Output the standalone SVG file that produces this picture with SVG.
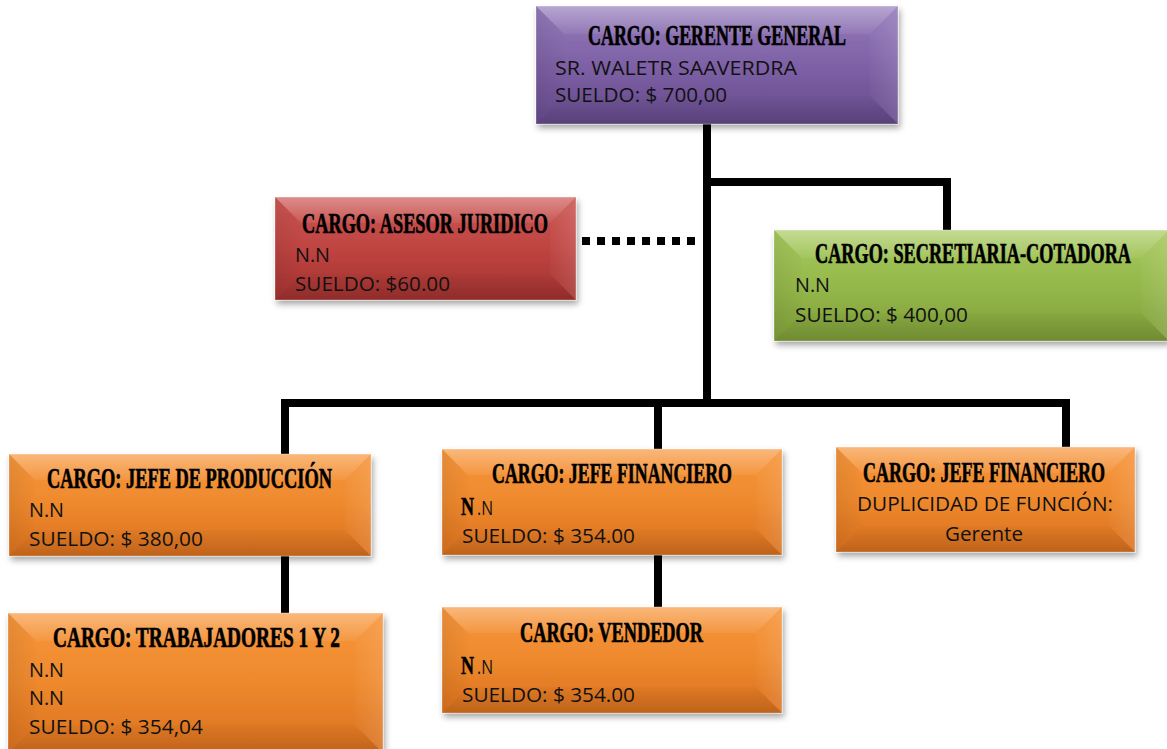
<svg xmlns="http://www.w3.org/2000/svg" width="1167" height="749" viewBox="0 0 1167 749">
  <defs>
    <linearGradient id="gPurple" x1="0" y1="0" x2="0" y2="1">
      <stop offset="0" stop-color="#957cbb"/>
      <stop offset="0.5" stop-color="#7e61a6"/>
      <stop offset="1" stop-color="#654a8b"/>
    </linearGradient>
    <linearGradient id="gRed" x1="0" y1="0" x2="0" y2="1">
      <stop offset="0" stop-color="#cc5754"/>
      <stop offset="0.5" stop-color="#bf4441"/>
      <stop offset="1" stop-color="#a3322f"/>
    </linearGradient>
    <linearGradient id="gGreen" x1="0" y1="0" x2="0" y2="1">
      <stop offset="0" stop-color="#a8ca5f"/>
      <stop offset="0.5" stop-color="#95b84b"/>
      <stop offset="1" stop-color="#7e9e38"/>
    </linearGradient>
    <linearGradient id="gOrange" x1="0" y1="0" x2="0" y2="1">
      <stop offset="0" stop-color="#f7963c"/>
      <stop offset="0.5" stop-color="#ee892d"/>
      <stop offset="1" stop-color="#d9701e"/>
    </linearGradient>
    <!-- soft bevel shading -->
    <linearGradient id="bevTop" x1="0" y1="0" x2="0" y2="1">
      <stop offset="0" stop-color="#fff" stop-opacity="0.32"/>
      <stop offset="1" stop-color="#fff" stop-opacity="0.06"/>
    </linearGradient>
    <linearGradient id="bevBottom" x1="0" y1="0" x2="0" y2="1">
      <stop offset="0" stop-color="#000" stop-opacity="0.02"/>
      <stop offset="1" stop-color="#000" stop-opacity="0.12"/>
    </linearGradient>
    <linearGradient id="bevLeft" x1="0" y1="0" x2="1" y2="0">
      <stop offset="0" stop-color="#000" stop-opacity="0.07"/>
      <stop offset="1" stop-color="#000" stop-opacity="0.01"/>
    </linearGradient>
    <linearGradient id="bevRight" x1="0" y1="0" x2="1" y2="0">
      <stop offset="0" stop-color="#fff" stop-opacity="0.02"/>
      <stop offset="1" stop-color="#fff" stop-opacity="0.12"/>
    </linearGradient>
    <filter id="shadow" x="-10%" y="-10%" width="125%" height="135%">
      <feDropShadow dx="2" dy="4" stdDeviation="3" flood-color="#000" flood-opacity="0.35"/>
    </filter>
    <style>
      .box { stroke: #ffffff; stroke-opacity: 0.35; stroke-width: 1; filter: url(#shadow); }
      .bt { fill: url(#bevTop); }
      .bb { fill: url(#bevBottom); }
      .bl { fill: url(#bevLeft); }
      .br { fill: url(#bevRight); }
      .title { font-family: "Liberation Serif", "DejaVu Serif", serif; font-weight: bold; font-size: 29px; fill: #000; stroke: #000; stroke-width: 0.7; }
      .body { font-family: "Open Sans", "Noto Sans", "Liberation Sans", sans-serif; font-size: 20px; fill: #111; }
      .bigN { font-family: "Liberation Serif", "DejaVu Serif", serif; font-weight: bold; font-size: 25px; fill: #000; stroke: #000; stroke-width: 0.5; }
      .conn { fill: none; stroke: #000; stroke-width: 8; stroke-linejoin: miter; }
      .dots { fill: none; stroke: #000; stroke-width: 8; stroke-dasharray: 8 7; }
    </style>
  </defs>

  <rect width="1167" height="749" fill="#ffffff"/>

  <!-- connectors -->
  <g id="connectors">
    <path class="conn" d="M707,123 V403"/>
    <path class="conn" d="M707,182 H947 V232"/>
    <path class="conn" d="M285,456 V403 H1066 V449"/>
    <path class="conn" d="M658,403 V451"/>
    <path class="conn" d="M285,554 V615"/>
    <path class="conn" d="M658,553 V609"/>
    <path class="dots" d="M582,241 H702"/>
  </g>

  <!-- general manager -->
  <g id="gerente">
    <rect class="box" x="536" y="6" width="362" height="118" fill="url(#gPurple)"/>
    <polygon class="bt" points="536,6 898,6 870,34 564,34"/>
    <polygon class="bb" points="536,124 898,124 870,96 564,96"/>
    <polygon class="bl" points="536,6 564,34 564,96 536,124"/>
    <polygon class="br" points="898,6 870,34 870,96 898,124"/>
    <text class="title" x="588" y="45" textLength="258" lengthAdjust="spacingAndGlyphs">CARGO: GERENTE GENERAL</text>
    <text class="body" x="555" y="75" textLength="242" lengthAdjust="spacingAndGlyphs">SR. WALETR SAAVERDRA</text>
    <text class="body" x="555" y="102" textLength="172" lengthAdjust="spacingAndGlyphs">SUELDO: $ 700,00</text>
  </g>

  <!-- legal advisor -->
  <g id="asesor">
    <rect class="box" x="275" y="197" width="301" height="103" fill="url(#gRed)"/>
    <polygon class="bt" points="275,197 576,197 550,223 301,223"/>
    <polygon class="bb" points="275,300 576,300 550,274 301,274"/>
    <polygon class="bl" points="275,197 301,223 301,274 275,300"/>
    <polygon class="br" points="576,197 550,223 550,274 576,300"/>
    <text class="title" x="302" y="233" textLength="246" lengthAdjust="spacingAndGlyphs">CARGO: ASESOR JURIDICO</text>
    <text class="body" x="295" y="262" textLength="35" lengthAdjust="spacingAndGlyphs">N.N</text>
    <text class="body" x="295" y="291" textLength="155" lengthAdjust="spacingAndGlyphs">SUELDO: $60.00</text>
  </g>

  <!-- secretary / accountant -->
  <g id="secretaria">
    <rect class="box" x="774" y="230" width="395" height="111" fill="url(#gGreen)"/>
    <polygon class="bt" points="774,230 1169,230 1141,258 802,258"/>
    <polygon class="bb" points="774,341 1169,341 1141,313 802,313"/>
    <polygon class="bl" points="774,230 802,258 802,313 774,341"/>
    <polygon class="br" points="1169,230 1141,258 1141,313 1169,341"/>
    <text class="title" x="815" y="263" textLength="316" lengthAdjust="spacingAndGlyphs">CARGO: SECRETIARIA-COTADORA</text>
    <text class="body" x="795" y="292" textLength="35" lengthAdjust="spacingAndGlyphs">N.N</text>
    <text class="body" x="795" y="322" textLength="173" lengthAdjust="spacingAndGlyphs">SUELDO: $ 400,00</text>
  </g>

  <!-- head of production -->
  <g id="jefe-produccion">
    <rect class="box" x="9" y="454" width="362" height="102" fill="url(#gOrange)"/>
    <polygon class="bt" points="9,454 371,454 345,480 35,480"/>
    <polygon class="bb" points="9,556 371,556 345,530 35,530"/>
    <polygon class="bl" points="9,454 35,480 35,530 9,556"/>
    <polygon class="br" points="371,454 345,480 345,530 371,556"/>
    <text class="title" x="47" y="488" textLength="285" lengthAdjust="spacingAndGlyphs">CARGO: JEFE DE PRODUCCIÓN</text>
    <text class="body" x="29" y="517" textLength="35" lengthAdjust="spacingAndGlyphs">N.N</text>
    <text class="body" x="29" y="546" textLength="174" lengthAdjust="spacingAndGlyphs">SUELDO: $ 380,00</text>
  </g>

  <!-- head of finance -->
  <g id="jefe-financiero">
    <rect class="box" x="442" y="449" width="340" height="106" fill="url(#gOrange)"/>
    <polygon class="bt" points="442,449 782,449 756,475 468,475"/>
    <polygon class="bb" points="442,555 782,555 756,529 468,529"/>
    <polygon class="bl" points="442,449 468,475 468,529 442,555"/>
    <polygon class="br" points="782,449 756,475 756,529 782,555"/>
    <text class="title" x="492" y="483" textLength="240" lengthAdjust="spacingAndGlyphs">CARGO: JEFE FINANCIERO</text>
    <text class="bigN" x="461" y="515" textLength="13" lengthAdjust="spacingAndGlyphs">N</text>
    <text class="body" x="477" y="515" textLength="16" lengthAdjust="spacingAndGlyphs">.N</text>
    <text class="body" x="462" y="543" textLength="173" lengthAdjust="spacingAndGlyphs">SUELDO: $ 354.00</text>
  </g>

  <!-- head of finance, held by the manager -->
  <g id="jefe-financiero-gerente">
    <rect class="box" x="836" y="447" width="299" height="105" fill="url(#gOrange)"/>
    <polygon class="bt" points="836,447 1135,447 1109,473 862,473"/>
    <polygon class="bb" points="836,552 1135,552 1109,526 862,526"/>
    <polygon class="bl" points="836,447 862,473 862,526 836,552"/>
    <polygon class="br" points="1135,447 1109,473 1109,526 1135,552"/>
    <text class="title" x="863" y="482" textLength="242" lengthAdjust="spacingAndGlyphs">CARGO: JEFE FINANCIERO</text>
    <text class="body" x="857" y="511" textLength="256" lengthAdjust="spacingAndGlyphs">DUPLICIDAD DE FUNCIÓN:</text>
    <text class="body" x="945" y="541" textLength="78" lengthAdjust="spacingAndGlyphs">Gerente</text>
  </g>

  <!-- workers -->
  <g id="trabajadores">
    <rect class="box" x="8" y="613" width="375" height="140" fill="url(#gOrange)"/>
    <polygon class="bt" points="8,613 383,613 355,641 36,641"/>
    <polygon class="bb" points="8,753 383,753 355,725 36,725"/>
    <polygon class="bl" points="8,613 36,641 36,725 8,753"/>
    <polygon class="br" points="383,613 355,641 355,725 383,753"/>
    <text class="title" x="53" y="647" textLength="287" lengthAdjust="spacingAndGlyphs">CARGO: TRABAJADORES 1 Y 2</text>
    <text class="body" x="29" y="677" textLength="35" lengthAdjust="spacingAndGlyphs">N.N</text>
    <text class="body" x="29" y="705" textLength="35" lengthAdjust="spacingAndGlyphs">N.N</text>
    <text class="body" x="29" y="734" textLength="174" lengthAdjust="spacingAndGlyphs">SUELDO: $ 354,04</text>
  </g>

  <!-- salesperson -->
  <g id="vendedor">
    <rect class="box" x="442" y="607" width="340" height="106" fill="url(#gOrange)"/>
    <polygon class="bt" points="442,607 782,607 756,633 468,633"/>
    <polygon class="bb" points="442,713 782,713 756,687 468,687"/>
    <polygon class="bl" points="442,607 468,633 468,687 442,713"/>
    <polygon class="br" points="782,607 756,633 756,687 782,713"/>
    <text class="title" x="520" y="642" textLength="183" lengthAdjust="spacingAndGlyphs">CARGO: VENDEDOR</text>
    <text class="bigN" x="461" y="674" textLength="13" lengthAdjust="spacingAndGlyphs">N</text>
    <text class="body" x="477" y="674" textLength="16" lengthAdjust="spacingAndGlyphs">.N</text>
    <text class="body" x="462" y="702" textLength="173" lengthAdjust="spacingAndGlyphs">SUELDO: $ 354.00</text>
  </g>
</svg>
